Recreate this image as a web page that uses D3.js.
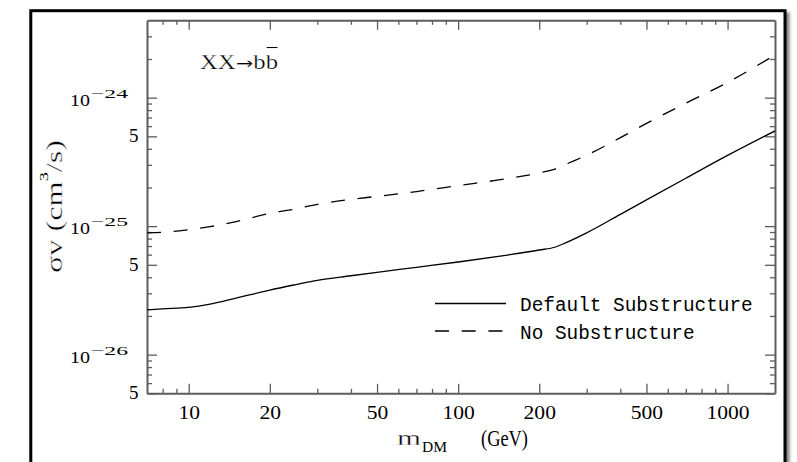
<!DOCTYPE html>
<html>
<head>
<meta charset="utf-8">
<script src="https://cdn.jsdelivr.net/npm/d3@7"></script>
<style>
  html, body { margin: 0; padding: 0; background: #fff; }
  svg { display: block; }
</style>
</head>
<body>
<svg id="chart" width="797" height="462"></svg>
<script>
// Upper limits on the annihilation cross-section for XX -> b bbar,
// with and without dark-matter substructure.
const masses = [7, 8, 10, 12, 15, 20, 25, 30, 40, 50, 70, 100, 150, 200, 230, 250, 300, 400, 500, 700, 1000, 1500];
const defaultSubstructure = [2.23e-26, 2.27e-26, 2.33e-26, 2.47e-26, 2.75e-26, 3.18e-26, 3.51e-26, 3.79e-26, 4.11e-26, 4.37e-26,
  4.78e-26, 5.26e-26, 5.93e-26, 6.52e-26, 6.88e-26, 7.4e-26, 8.87e-26, 1.235e-25, 1.60e-25, 2.36e-25, 3.55e-25, 5.51e-25];
const noSubstructure = [8.87e-26, 8.95e-26, 9.39e-26, 9.91e-26, 1.084e-25, 1.257e-25, 1.362e-25, 1.477e-25, 1.616e-25, 1.705e-25,
  1.858e-25, 2.069e-25, 2.333e-25, 2.597e-25, 2.79e-25, 3.02e-25, 3.565e-25, 4.88e-25, 6.30e-25, 9.05e-25, 1.313e-24, 2.15e-24];

const xLabelTicks = [10, 20, 50, 100, 200, 500, 1000];
const xMinorTicks = [8, 9, 30, 40, 60, 70, 80, 90, 300, 400, 600, 700, 800, 900];
const yDecadeTicks = [1e-26, 1e-25, 1e-24];
const yDecadeExponents = ["−26", "−25", "−24"];
const yFiveTicks = [5e-27, 5e-26, 5e-25];
const yMinorTicks = [6e-27, 7e-27, 8e-27, 9e-27, 2e-26, 3e-26, 4e-26, 6e-26, 7e-26, 8e-26, 9e-26,
  2e-25, 3e-25, 4e-25, 6e-25, 7e-25, 8e-25, 9e-25, 2e-24, 3e-24];
const legendLabels = ["Default Substructure", "No Substructure"];

const plot = { left: 147, right: 775, top: 20.3, bottom: 393.3 };
const serif = "'Liberation Serif', serif";
const mono = "'Liberation Mono', monospace";
const axisColor = "#5c5c5c";
const dash = "14,12.7";

const svg = d3.select("#chart");

// Widen or narrow a text run horizontally by a factor of its natural length
function stretch(sel, factor) {
  sel.each(function () {
    const w = this.getComputedTextLength();
    d3.select(this).attr("textLength", w * factor).attr("lengthAdjust", "spacingAndGlyphs");
  });
}
// Pare the glyph edges back a little so widened text keeps a light stroke
function thin(sel, w) {
  sel.attr("stroke", "#fff").attr("stroke-width", w).attr("stroke-linejoin", "round");
}

// Framed panel with a soft shadow on its right side
const defs = svg.append("defs");
defs.append("filter").attr("id", "panelShadow")
  .attr("x", "-5%").attr("y", "-5%").attr("width", "115%").attr("height", "115%")
  .append("feDropShadow")
  .attr("dx", 3).attr("dy", 3).attr("stdDeviation", 1.4)
  .attr("flood-color", "#000").attr("flood-opacity", 0.5);

svg.append("rect")
  .attr("x", 30.8).attr("y", 10.7)
  .attr("width", 754.2).attr("height", 520)
  .attr("fill", "#fff").attr("stroke", "#000").attr("stroke-width", 3)
  .attr("filter", "url(#panelShadow)");

const x = d3.scaleLog().domain([7, 1500]).range([plot.left, plot.right]);
const y = d3.scaleLog().domain([5e-27, 4e-24]).range([plot.bottom, plot.top]);

function styleAxis(g, keepDomain) {
  if (keepDomain) {
    g.select(".domain").attr("stroke", axisColor).attr("stroke-width", 2);
  } else {
    g.select(".domain").remove();
  }
  g.selectAll(".tick line").attr("stroke", axisColor).attr("stroke-width", 1.3);
}

// Bottom axis: labelled majors and unlabelled minors, ticks pointing inward
const bottom = svg.append("g")
  .attr("transform", `translate(0,${plot.bottom})`)
  .call(d3.axisBottom(x).tickValues(xLabelTicks).tickFormat(d3.format("d"))
    .tickSizeInner(-9.5).tickSizeOuter(0).tickPadding(12.3));
styleAxis(bottom, true);
bottom.selectAll("text")
  .attr("fill", "#000").attr("font-family", serif).attr("font-size", 18.3)
  .call(stretch, 1.18);

svg.append("g")
  .attr("transform", `translate(0,${plot.bottom})`)
  .call(d3.axisBottom(x).tickValues(xMinorTicks).tickFormat("").tickSizeInner(-4.5).tickSizeOuter(0))
  .call(g => styleAxis(g, false));

// Top axis
svg.append("g")
  .attr("transform", `translate(0,${plot.top})`)
  .call(d3.axisTop(x).tickValues(xLabelTicks).tickFormat("").tickSizeInner(-9.5).tickSizeOuter(0))
  .call(g => styleAxis(g, true));
svg.append("g")
  .attr("transform", `translate(0,${plot.top})`)
  .call(d3.axisTop(x).tickValues(xMinorTicks).tickFormat("").tickSizeInner(-4.5).tickSizeOuter(0))
  .call(g => styleAxis(g, false));

// Left and right axes
const yMajor = yDecadeTicks.concat(yFiveTicks);
svg.append("g")
  .attr("transform", `translate(${plot.left},0)`)
  .call(d3.axisLeft(y).tickValues(yMajor).tickFormat("").tickSizeInner(-10).tickSizeOuter(0))
  .call(g => styleAxis(g, true));
svg.append("g")
  .attr("transform", `translate(${plot.left},0)`)
  .call(d3.axisLeft(y).tickValues(yMinorTicks).tickFormat("").tickSizeInner(-5).tickSizeOuter(0))
  .call(g => styleAxis(g, false));
svg.append("g")
  .attr("transform", `translate(${plot.right},0)`)
  .call(d3.axisRight(y).tickValues(yMajor).tickFormat("").tickSizeInner(-10).tickSizeOuter(0))
  .call(g => styleAxis(g, true));
svg.append("g")
  .attr("transform", `translate(${plot.right},0)`)
  .call(d3.axisRight(y).tickValues(yMinorTicks).tickFormat("").tickSizeInner(-5).tickSizeOuter(0))
  .call(g => styleAxis(g, false));

svg.selectAll("g.tick text").filter(function () { return this.textContent === ""; }).remove();

// Left tick labels: powers of ten and the intermediate 5s
yDecadeTicks.forEach((v, i) => {
  svg.append("text")
    .attr("x", 70).attr("y", y(v) + 8)
    .attr("font-family", serif).attr("font-size", 17.5)
    .attr("textLength", 20).attr("lengthAdjust", "spacingAndGlyphs")
    .text("10");
  svg.append("text")
    .attr("x", 91).attr("y", y(v) + 0.2)
    .attr("font-family", serif).attr("font-size", 13.5)
    .attr("textLength", 37).attr("lengthAdjust", "spacingAndGlyphs")
    .text(yDecadeExponents[i]);
});
yFiveTicks.forEach(v => {
  svg.append("text")
    .attr("x", 129).attr("y", y(v) + 6)
    .attr("font-family", serif).attr("font-size", 18.3)
    .attr("textLength", 9.5).attr("lengthAdjust", "spacingAndGlyphs")
    .text("5");
});

// Curves
const line = d3.line()
  .x((d, i) => x(masses[i]))
  .y(d => y(d))
  .curve(d3.curveMonotoneX);

const clip = defs.append("clipPath").attr("id", "plotClip");
clip.append("rect")
  .attr("x", plot.left).attr("y", plot.top)
  .attr("width", plot.right - plot.left).attr("height", plot.bottom - plot.top);

const curves = svg.append("g").attr("clip-path", "url(#plotClip)");
curves.append("path")
  .datum(defaultSubstructure)
  .attr("d", line)
  .attr("fill", "none").attr("stroke", "#000").attr("stroke-width", 1.3);
curves.append("path")
  .datum(noSubstructure)
  .attr("d", line)
  .attr("fill", "none").attr("stroke", "#000").attr("stroke-width", 1.3)
  .attr("stroke-dasharray", dash);

// Legend
const legend = svg.append("g");
[[303.5, null, 311], [331, dash, 338.5]].forEach(([ly, da, ty], i) => {
  legend.append("line")
    .attr("x1", 435).attr("x2", 506).attr("y1", ly).attr("y2", ly)
    .attr("stroke", "#000").attr("stroke-width", 1.3)
    .attr("stroke-dasharray", da);
  legend.append("text")
    .attr("x", 520).attr("y", ty)
    .attr("font-family", mono).attr("font-size", 19.4)
    .text(legendLabels[i]);
});

// Channel label XX -> b bbar, with an overline on the anti-quark
const chan = svg.append("text")
  .attr("x", 200).attr("y", 69)
  .attr("font-family", serif).attr("font-size", 20)
  .attr("textLength", 78).attr("lengthAdjust", "spacingAndGlyphs");
chan.append("tspan").text("XX");
chan.append("tspan").attr("font-family", "'DejaVu Sans', sans-serif").attr("font-size", 17).text("→");
chan.append("tspan").text("bb");
chan.call(thin, 0.25);
const bbar = chan.node().getExtentOfChar(4);
svg.append("line")
  .attr("x1", bbar.x + 1).attr("x2", bbar.x + bbar.width - 0.5)
  .attr("y1", 47.5).attr("y2", 47.5)
  .attr("stroke", "#000").attr("stroke-width", 1.1);

// Axis titles
svg.append("text")
  .attr("x", 397).attr("y", 445)
  .attr("font-family", serif).attr("font-size", 22)
  .attr("textLength", 24).attr("lengthAdjust", "spacingAndGlyphs")
  .text("m").call(thin, 0.35);
svg.append("text")
  .attr("x", 422).attr("y", 451.5)
  .attr("font-family", serif).attr("font-size", 14)
  .attr("textLength", 25).attr("lengthAdjust", "spacingAndGlyphs")
  .text("DM");
svg.append("text")
  .attr("x", 481).attr("y", 446)
  .attr("font-family", serif).attr("font-size", 23.5)
  .attr("textLength", 47).attr("lengthAdjust", "spacingAndGlyphs")
  .text("(GeV)");

const yTitle = svg.append("text")
  .attr("transform", "translate(62,206.5) rotate(-90)")
  .attr("text-anchor", "middle")
  .attr("font-family", serif).attr("font-size", 23)
  .attr("textLength", 133).attr("lengthAdjust", "spacingAndGlyphs");
yTitle.append("tspan").text("σv (cm");
yTitle.append("tspan").attr("dy", -14).attr("font-size", 13).attr("stroke", "none").text("3");
yTitle.append("tspan").attr("dy", 14).text("/s)");
yTitle.call(thin, 0.4);
</script>
</body>
</html>
